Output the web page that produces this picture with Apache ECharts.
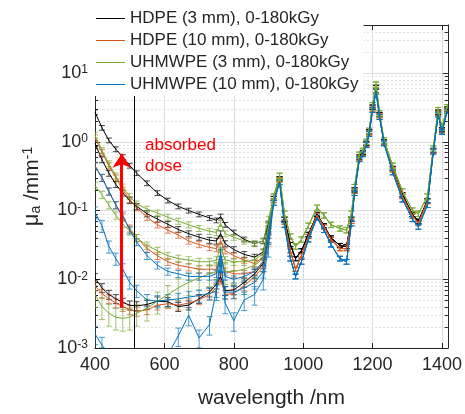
<!DOCTYPE html>
<html>
<head>
<meta charset="utf-8">
<script src="https://cdn.jsdelivr.net/npm/echarts@6/dist/echarts.min.js"></script>
<style>
  html, body {margin: 0; padding: 0; background: #fff;}
  #chart {width: 465px; height: 414px;}
</style>
</head>
<body>
<div id="chart"></div>
<script>
// wavelengths (nm): visible part sampled per curve, NIR part shared per material
const visWl = [400, 420, 440, 460, 480, 500, 520, 550, 580, 610, 640, 670, 700, 730, 750, 762, 775, 800, 830, 860, 885, 900];
const nirWl = [915, 932, 946, 963, 978, 995, 1015, 1040, 1060, 1080, 1106, 1125, 1139, 1148, 1162, 1172, 1182, 1190, 1200, 1210, 1220, 1233, 1258, 1286, 1315, 1332, 1358, 1375, 1389, 1400, 1415];

// HDPE 3 mm (high dose, mid dose, 0 kGy)
const hdpe3High = [2.7, 1.6, 1.05, 0.78, 0.6, 0.45, 0.35, 0.25, 0.18, 0.14, 0.115, 0.1, 0.088, 0.078, 0.072, 0.082, 0.062, 0.048, 0.038, 0.033, 0.036, 0.065];
const hdpe3Mid = [0.95, 0.55, 0.35, 0.24, 0.18, 0.14, 0.115, 0.09, 0.075, 0.063, 0.053, 0.046, 0.041, 0.037, 0.036, 0.046, 0.033, 0.027, 0.023, 0.021, 0.025, 0.06];
const hdpe3Zero = [0.0105, 0.0075, 0.006, 0.0052, 0.0046, 0.0042, 0.0041, 0.0043, 0.0048, 0.0047, 0.004, 0.0042, 0.0052, 0.0065, 0.0085, 0.011, 0.0068, 0.007, 0.009, 0.012, 0.017, 0.04];
const hdpe3Nir = [0.15, 0.29, 0.075, 0.032, 0.02, 0.026, 0.045, 0.088, 0.06, 0.04, 0.031, 0.03, 0.075, 0.2, 0.6, 0.7, 0.95, 1.4, 3.2, 6.2, 2.5, 1.0, 0.41, 0.17, 0.088, 0.07, 0.14, 0.75, 2.7, 1.5, 3.0];
const hdpe3Err = [0.08, 0.1, 0.15];

// HDPE 10 mm
const hdpe10High = [1.15, 0.7, 0.45, 0.3, 0.2, 0.145, 0.11, 0.08, 0.062, 0.052, 0.044, 0.036, 0.032, 0.029, 0.028, 0.036, 0.026, 0.022, 0.019, 0.017, 0.021, 0.055];
const hdpe10Mid = [0.45, 0.3, 0.19, 0.12, 0.08, 0.055, 0.04, 0.028, 0.022, 0.018, 0.016, 0.015, 0.014, 0.014, 0.014, 0.022, 0.013, 0.012, 0.012, 0.013, 0.018, 0.05];
const hdpe10Zero = [0.008, 0.0062, 0.0052, 0.0045, 0.004, 0.0036, 0.0034, 0.0036, 0.0042, 0.0044, 0.0042, 0.0045, 0.005, 0.006, 0.0075, 0.01, 0.006, 0.0062, 0.008, 0.011, 0.015, 0.035];
const hdpe10Nir = [0.14, 0.28, 0.068, 0.026, 0.014, 0.022, 0.042, 0.085, 0.058, 0.038, 0.028, 0.028, 0.07, 0.19, 0.58, 0.68, 0.92, 1.35, 3.0, 5.6, 2.4, 0.98, 0.39, 0.16, 0.083, 0.066, 0.135, 0.74, 2.6, 1.45, 2.9];
const hdpe10Err = [0.1, 0.12, 0.15];

// UHMWPE 3 mm
const uhmw3High = [1.25, 0.75, 0.48, 0.32, 0.22, 0.16, 0.125, 0.105, 0.092, 0.08, 0.07, 0.062, 0.055, 0.05, 0.048, 0.065, 0.046, 0.041, 0.036, 0.033, 0.036, 0.075];
const uhmw3Mid = [0.23, 0.17, 0.12, 0.085, 0.064, 0.05, 0.04, 0.031, 0.026, 0.022, 0.02, 0.019, 0.018, 0.018, 0.019, 0.03, 0.019, 0.018, 0.018, 0.019, 0.024, 0.06];
const uhmw3Zero = [0.006, 0.004, 0.0032, 0.0028, 0.0027, 0.0028, 0.0032, 0.0038, 0.0048, 0.006, 0.0075, 0.009, 0.0105, 0.012, 0.013, 0.02, 0.013, 0.013, 0.014, 0.016, 0.02, 0.05];
const uhmw3Nir = [0.16, 0.32, 0.09, 0.042, 0.03, 0.038, 0.06, 0.11, 0.085, 0.062, 0.055, 0.052, 0.09, 0.22, 0.65, 0.74, 1.0, 1.45, 3.4, 6.8, 2.6, 1.05, 0.45, 0.19, 0.1, 0.09, 0.16, 0.8, 2.9, 1.6, 3.2];
const uhmw3Err = [0.1, 0.12, 0.35];

// UHMWPE 10 mm
const uhmw10High = [0.44, 0.3, 0.19, 0.12, 0.085, 0.052, 0.035, 0.022, 0.016, 0.013, 0.012, 0.011, 0.011, 0.011, 0.012, 0.024, 0.011, 0.01, 0.011, 0.013, 0.018, 0.05];
const uhmw10Mid = [0.094, 0.06, 0.03, 0.02, 0.014, 0.009, 0.0068, 0.005, 0.0048, 0.005, 0.0052, 0.0055, 0.0058, 0.0062, 0.0068, 0.016, 0.0065, 0.0065, 0.0075, 0.009, 0.013, 0.04];
const uhmw10Zero = [0.0016, 0.0011, 0.0008, 0.0006, 0.0005, 0.0005, 0.0005, 0.0005, 0.0006, 0.0008, 0.0015, 0.003, 0.0014, 0.0022, 0.007, 0.022, 0.0045, 0.0025, 0.005, 0.006, 0.01, 0.03];
const uhmw10Nir = [0.13, 0.26, 0.062, 0.02, 0.011, 0.018, 0.038, 0.079, 0.052, 0.032, 0.02, 0.018, 0.065, 0.18, 0.56, 0.66, 0.9, 1.3, 2.9, 5.4, 2.3, 0.95, 0.36, 0.145, 0.075, 0.058, 0.12, 0.72, 2.5, 1.4, 2.8];
const uhmw10Err = [0.12, 0.2, 0.3];

// relative error in the NIR part, per material
const nirErr = [0.07, 0.07, 0.09, 0.08];

// annotations
const doseLineWl = 512;
const arrowWl = 477;
const arrowFrom = 0.0039;
const arrowTo = 0.67;

const xMin = 400, xMax = 1417;
const yMin = 0.001, yMax = 50;
const font = 'Liberation Sans, Arial, Helvetica, sans-serif';
const axisColor = '#262626';

const groups = [
  {name: 'HDPE (3 mm), 0-180kGy', color: '#000000', vis: [hdpe3High, hdpe3Mid, hdpe3Zero], nir: hdpe3Nir, err: hdpe3Err},
  {name: 'HDPE (10 mm), 0-180kGy', color: '#D95319', vis: [hdpe10High, hdpe10Mid, hdpe10Zero], nir: hdpe10Nir, err: hdpe10Err},
  {name: 'UHMWPE (3 mm), 0-180kGy', color: '#77AC30', vis: [uhmw3High, uhmw3Mid, uhmw3Zero], nir: uhmw3Nir, err: uhmw3Err},
  {name: 'UHMWPE (10 mm), 0-180kGy', color: '#0072BD', vis: [uhmw10High, uhmw10Mid, uhmw10Zero], nir: uhmw10Nir, err: uhmw10Err}
];

function errBar(color) {
  return function (params, api) {
    const x = api.value(0), y = api.value(1);
    if (y < yMin || y > yMax) return;
    const lo = Math.max(api.value(2), yMin);
    const hi = Math.min(api.value(3), yMax);
    const a = api.coord([x, lo]), b = api.coord([x, hi]);
    const w = 3;
    const style = {stroke: color, lineWidth: 1, opacity: 0.7};
    return {
      type: 'group',
      children: [
        {type: 'line', shape: {x1: a[0], y1: a[1], x2: b[0], y2: b[1]}, style: style},
        {type: 'line', shape: {x1: a[0] - w, y1: a[1], x2: a[0] + w, y2: a[1]}, style: style},
        {type: 'line', shape: {x1: b[0] - w, y1: b[1], x2: b[0] + w, y2: b[1]}, style: style}
      ]
    };
  };
}

// dotted minor grid of the log axis, with small inward ticks on both sides
const minorVals = [];
for (let e = -3; e <= 1; e++) {
  for (let m = 2; m <= 9; m++) {
    const v = m * Math.pow(10, e);
    if (v < yMax) minorVals.push([xMin, v]);
  }
}
function minorGrid(params, api) {
  const v = api.value(1);
  const a = api.coord([xMin, v]), b = api.coord([xMax, v]);
  const y = Math.round(a[1]) + 0.5;
  return {
    type: 'group',
    children: [
      {type: 'line', shape: {x1: a[0], y1: y, x2: b[0], y2: y}, style: {stroke: '#e2e2e2', lineWidth: 1, lineDash: [2, 2]}},
      {type: 'line', shape: {x1: a[0], y1: y, x2: a[0] + 3, y2: y}, style: {stroke: axisColor, lineWidth: 1}},
      {type: 'line', shape: {x1: b[0] - 3, y1: y, x2: b[0], y2: y}, style: {stroke: axisColor, lineWidth: 1}}
    ]
  };
}

const allWl = visWl.concat(nirWl);
const series = [{
  type: 'custom', name: 'minor grid', data: minorVals,
  encode: {x: 0, y: 1}, renderItem: minorGrid, silent: true, z: 0
}];
groups.forEach((g, gi) => {
  g.vis.forEach((vis, i) => {
    const vals = vis.concat(g.nir);
    const pts = allWl.map((x, k) => [x, vals[k]]);
    series.push({
      type: 'line', name: g.name, data: pts,
      symbol: 'none', showSymbol: false,
      lineStyle: {width: 1, color: g.color}, itemStyle: {color: g.color},
      clip: true, z: 3
    });
    series.push({
      type: 'custom', name: g.name,
      data: pts.map((p, k) => {
        const e = k < visWl.length ? g.err[i] : nirErr[gi];
        return [p[0], p[1], p[1] * (1 - e), p[1] * (1 + e)];
      }),
      encode: {x: 0, y: 1},
      renderItem: errBar(g.color),
      clip: true, z: 2
    });
  });
});

// vertical reference line and the dose arrow
series[1].markLine = {
  silent: true,
  animation: false,
  label: {show: false},
  data: [
    [
      {coord: [doseLineWl, yMin], symbol: 'none', lineStyle: {color: '#000', width: 1, type: 'solid'}},
      {coord: [doseLineWl, yMax], symbol: 'none', lineStyle: {color: '#000', width: 1, type: 'solid'}}
    ],
    [
      {coord: [arrowWl, arrowFrom], symbol: 'none', lineStyle: {color: '#ff0000', width: 3, type: 'solid'}},
      {coord: [arrowWl, arrowTo], symbol: 'arrow', symbolSize: 14, lineStyle: {color: '#ff0000', width: 3, type: 'solid'}}
    ]
  ]
};

const chart = echarts.init(document.getElementById('chart'));
chart.setOption({
  animation: false,
  backgroundColor: '#fff',
  textStyle: {fontFamily: font},
  grid: {left: 95, right: 12, top: 25, bottom: 61},
  legend: {
    data: groups.map(g => ({name: g.name, itemStyle: {color: g.color}})),
    orient: 'vertical',
    left: 92, top: 6,
    padding: [4, 5, 3, 4],
    icon: 'rect', itemWidth: 29, itemHeight: 1, itemGap: 5,
    backgroundColor: '#fff',
    selectedMode: false,
    textStyle: {fontSize: 17, color: axisColor, fontFamily: font, lineHeight: 17},
    z: 10
  },
  xAxis: [
    {
      type: 'value', min: xMin, max: xMax, interval: 200,
      name: 'wavelength /nm', nameLocation: 'middle', nameGap: 40,
      nameTextStyle: {fontSize: 21, color: axisColor, fontFamily: font},
      axisLine: {lineStyle: {color: axisColor}},
      axisTick: {inside: true, length: 5, lineStyle: {color: axisColor}},
      axisLabel: {
        fontSize: 18, color: axisColor, margin: 8,
        formatter: v => (v % 200 === 0 ? String(v) : '')
      },
      splitLine: {show: true, lineStyle: {color: '#dcdcdc'}}
    },
    {
      type: 'value', min: xMin, max: xMax, interval: 200, position: 'top',
      axisLine: {show: true, lineStyle: {color: axisColor}},
      axisTick: {inside: true, length: 5, lineStyle: {color: axisColor}},
      axisLabel: {show: false},
      splitLine: {show: false}
    }
  ],
  yAxis: [
    {
      type: 'log', logBase: 10, min: yMin, max: yMax,
      name: '{m|μ}{sub|a}{t| /mm}{sup|-1}',
      nameLocation: 'middle', nameGap: 52, nameRotate: 90,
      nameTextStyle: {
        color: axisColor,
        rich: {
          m: {fontSize: 22, fontFamily: font, color: axisColor},
          sub: {fontSize: 14, fontFamily: font, color: axisColor, verticalAlign: 'bottom'},
          t: {fontSize: 21, fontFamily: font, color: axisColor},
          sup: {fontSize: 14, fontFamily: font, color: axisColor, verticalAlign: 'top'}
        }
      },
      axisLine: {show: true, lineStyle: {color: axisColor}},
      axisTick: {inside: true, length: 5, lineStyle: {color: axisColor}},
      axisLabel: {
        margin: 7,
        formatter: v => {
          const e = Math.log10(v);
          const r = Math.round(e);
          if (Math.abs(e - r) > 1e-6) return '';
          return '{b|10}{s|' + r + '}';
        },
        rich: {
          b: {fontSize: 18, color: axisColor, fontFamily: font},
          s: {fontSize: 12, color: axisColor, fontFamily: font, verticalAlign: 'top'}
        }
      },
      splitLine: {show: true, lineStyle: {color: '#dcdcdc'}}
    },
    {
      type: 'log', logBase: 10, min: yMin, max: yMax, position: 'right',
      axisLine: {show: true, lineStyle: {color: axisColor}},
      axisTick: {inside: true, length: 5, lineStyle: {color: axisColor}},
      axisLabel: {show: false},
      splitLine: {show: false}
    }
  ],
  graphic: [
    {
      type: 'text', left: 145, top: 135, z: 20,
      style: {text: 'absorbed\ndose', fill: '#ff0000', font: '17px ' + font, lineHeight: 21}
    }
  ],
  series: series
});
</script>
</body>
</html>
